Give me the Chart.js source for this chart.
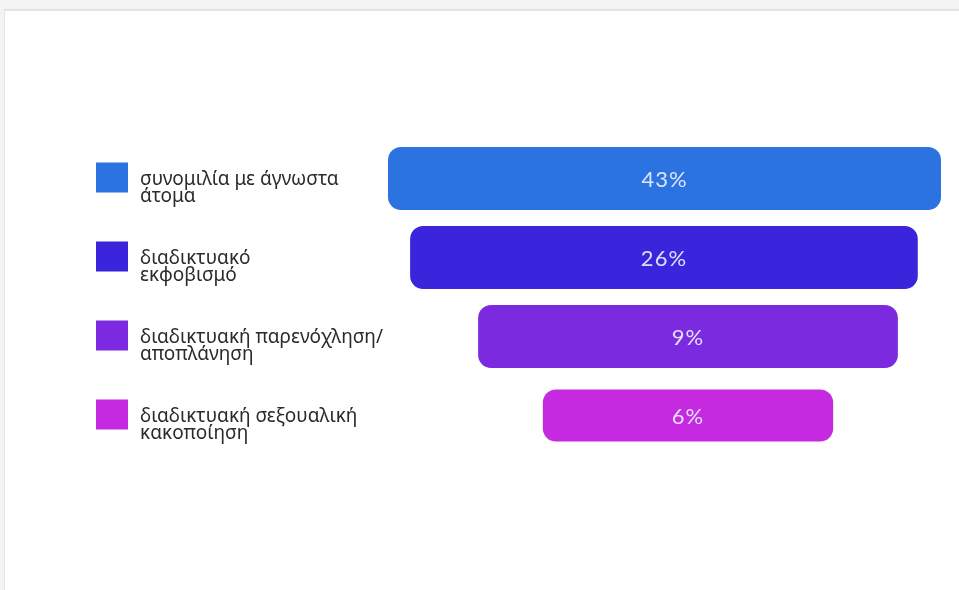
<!DOCTYPE html>
<html>
<head>
<meta charset="utf-8">
<script src="https://cdn.jsdelivr.net/npm/chart.js@4.4.1/dist/chart.umd.min.js"></script>
<style>
  html, body { margin: 0; padding: 0; }
  body { width: 959px; height: 590px; background: #f3f3f3; position: relative; overflow: hidden; }
  .paper { position: absolute; left: 4px; top: 9px; right: 0; bottom: 0; background: #fff; border-top: 2px solid #e3e3e3; border-left: 1px solid #e6e6e6; }
  #funnel { position: absolute; left: 0; top: 0; }
</style>
</head>
<body>
<div class="paper"></div>
<canvas id="funnel" width="959" height="590"></canvas>
<script>
// categorieen, per regel van de legenda
const categories = [
    ['συνομιλία με άγνωστα', 'άτομα'],
    ['διαδικτυακό', 'εκφοβισμό'],
    ['διαδικτυακή παρενόχληση/', 'αποπλάνηση'],
    ['διαδικτυακή σεξουαλική', 'κακοποίηση']
];

// de percentages die in de balken staan
const percentages = [43, 26, 9, 6];

const funnelStart = [0, 4, 16.3, 28];
const funnelEnd = [100, 95.8, 92.2, 80.5];

const barColors = ['#2b73e0', '#3a25dc', '#7b2ae0', '#c52ae0'];

// de laatste balk is in het plaatje wat dunner
const thinIndex = 3;

const ctx = document.getElementById('funnel');

// tekent de legenda links en de percentages in de balken
const funnelLabels = {
    id: 'funnelLabels',
    afterDatasetsDraw(chart) {
        const c = chart.ctx;
        const yScale = chart.scales.y;
        c.save();

        c.font = '400 22px Lato';
        c.letterSpacing = '1px';
        c.fillStyle = 'rgba(236,238,255,0.92)';
        c.textAlign = 'center';
        c.textBaseline = 'alphabetic';
        chart.data.datasets.forEach((ds, d) => {
            chart.getDatasetMeta(d).data.forEach((bar, i) => {
                if (ds.data[i] == null) return;
                c.fillText(percentages[i] + '%', (bar.x + bar.base) / 2, bar.y + 8);
            });
        });

        c.letterSpacing = '0px';
        c.textAlign = 'left';
        c.font = '19px "Noto Sans"';
        categories.forEach((lines, i) => {
            const y = yScale.getPixelForValue(i);
            c.fillStyle = barColors[i];
            c.fillRect(96, y - 16, 32, 30);
            c.fillStyle = '#2b2b2b';
            lines.forEach((line, j) => {
                c.fillText(line, 140, y + 6 + j * 17);
            });
        });
        c.restore();
    }
};

const barStyle = {
    borderRadius: 13,
    borderSkipped: false,
    categoryPercentage: 1,
    grouped: false,
    clip: false
};

new Chart(ctx, {
    type: 'bar',
    data: {
        labels: categories.map(l => l.join(' ')),
        datasets: [{
            ...barStyle,
            data: funnelStart.map((s, i) => i === thinIndex ? null : [s, funnelEnd[i]]),
            backgroundColor: barColors,
            barPercentage: 0.8
        }, {
            ...barStyle,
            data: funnelStart.map((s, i) => i === thinIndex ? [s, funnelEnd[i]] : null),
            backgroundColor: barColors,
            barPercentage: 0.66
        }]
    },
    options: {
        indexAxis: 'y',
        responsive: false,
        animation: false,
        events: [],
        layout: { padding: { left: 388, right: 18, top: 139, bottom: 135 } },
        plugins: { legend: { display: false }, tooltip: { enabled: false } },
        scales: {
            x: { display: false, min: 0, max: 100 },
            y: { display: false }
        }
    },
    plugins: [funnelLabels]
});
</script>
</body>
</html>
